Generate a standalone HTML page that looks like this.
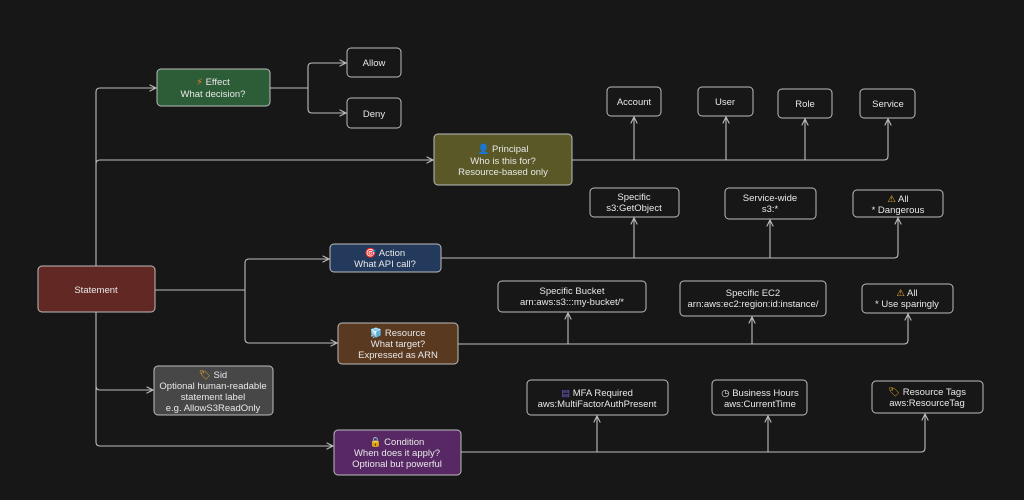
<!DOCTYPE html>
<html><head><meta charset="utf-8"><style>
html,body{margin:0;padding:0;background:#171717;}
svg{display:block}
text{font-family:"Liberation Sans","DejaVu Sans",sans-serif;font-size:9.5px;fill:#e8e8e8;text-anchor:middle}
.b{stroke:#bdbdbd;stroke-width:1;}
.l{fill:none;stroke:#bdbdbd;stroke-width:1.1}
</style></head><body>
<svg width="1024" height="500" viewBox="0 0 1024 500">
<defs><marker id="a" markerWidth="8" markerHeight="8" refX="6" refY="3" orient="auto"><path d="M0,0 L6,3 L0,6" fill="none" stroke="#bdbdbd" stroke-width="1"/></marker></defs>
<rect width="1024" height="500" fill="#171717"/>
<!-- connectors -->
<g class="l" marker-end="url(#a)">
<path d="M96,266 V92 Q96,88 100,88 H156"/>
<path d="M96,164 Q96,160 100,160 H433"/>
<path d="M96,312 V386 Q96,390 100,390 H153"/>
<path d="M96,386 V442 Q96,446 100,446 H333"/>
<path d="M155,290 H245 V263 Q245,259 249,259 H329"/>
<path d="M245,290 V339 Q245,343 249,343 H337"/>
<path d="M270,88 H308 V67 Q308,63 312,63 H346"/>
<path d="M308,88 V109 Q308,113 312,113 H346"/>
<path d="M572,160 H634 V117"/>
<path d="M634,160 H726 V117"/>
<path d="M726,160 H805 V119"/>
<path d="M805,160 H884 Q888,160 888,156 V119"/>
<path d="M441,258 H634 V218"/>
<path d="M634,258 H770 V220"/>
<path d="M770,258 H894 Q898,258 898,254 V218"/>
<path d="M458,344 H568 V313"/>
<path d="M568,344 H752 V317"/>
<path d="M752,344 H904 Q908,344 908,340 V314"/>
<path d="M461,452 H597 V416"/>
<path d="M597,452 H768 V416"/>
<path d="M768,452 H921 Q925,452 925,448 V414"/>
</g>
<!-- colored nodes -->
<rect class="b" x="38" y="266" width="117" height="46" rx="4" fill="#622924"/>
<text x="96" y="293">Statement</text>
<rect class="b" x="157" y="69" width="113" height="37" rx="4" fill="#2c5d36"/>
<text x="213" y="85"><tspan fill="#f07a2a">⚡</tspan> Effect</text><text x="213" y="97">What decision?</text>
<rect class="b" x="434" y="134" width="138" height="51" rx="4" fill="#595826"/>
<text x="503" y="152"><tspan fill="#7b4bb0">👤</tspan> Principal</text><text x="503" y="164">Who is this for?</text><text x="503" y="175">Resource-based only</text>
<rect class="b" x="330" y="244" width="111" height="28" rx="4" fill="#233a5d"/>
<text x="385" y="256"><tspan fill="#e0407a">🎯</tspan> Action</text><text x="385" y="267">What API call?</text>
<rect class="b" x="338" y="323" width="120" height="41" rx="4" fill="#593920"/>
<text x="398" y="336"><tspan fill="#5a8ee0">🧊</tspan> Resource</text><text x="398" y="347">What target?</text><text x="398" y="358">Expressed as ARN</text>
<rect class="b" x="154" y="366" width="119" height="49" rx="4" fill="#474747"/>
<text x="213" y="378"><tspan fill="#f0b030">🏷</tspan> Sid</text><text x="213" y="389">Optional human-readable</text><text x="213" y="400">statement label</text><text x="213" y="411">e.g. AllowS3ReadOnly</text>
<rect class="b" x="334" y="430" width="127" height="45" rx="4" fill="#582865"/>
<text x="397" y="445"><tspan fill="#f0a030">🔒</tspan> Condition</text><text x="397" y="456">When does it apply?</text><text x="397" y="467">Optional but powerful</text>
<!-- leaf nodes -->
<g fill="#171717">
<rect class="b" x="347" y="48" width="54" height="29" rx="4"/><rect class="b" x="347" y="98" width="54" height="30" rx="4"/>
<rect class="b" x="607" y="87" width="54" height="29" rx="4"/><rect class="b" x="698" y="87" width="55" height="29" rx="4"/>
<rect class="b" x="778" y="89" width="54" height="29" rx="4"/><rect class="b" x="860" y="89" width="55" height="29" rx="4"/>
<rect class="b" x="590" y="188" width="89" height="29" rx="4"/><rect class="b" x="725" y="188" width="91" height="31" rx="4"/>
<rect class="b" x="853" y="190" width="90" height="27" rx="4"/>
<rect class="b" x="498" y="281" width="148" height="31" rx="4"/><rect class="b" x="680" y="281" width="146" height="35" rx="4"/>
<rect class="b" x="862" y="284" width="91" height="29" rx="4"/>
<rect class="b" x="527" y="380" width="141" height="35" rx="4"/><rect class="b" x="712" y="380" width="95" height="35" rx="4"/>
<rect class="b" x="872" y="381" width="111" height="32" rx="4"/>
</g>
<text x="374" y="66">Allow</text><text x="374" y="117">Deny</text>
<text x="634" y="105">Account</text><text x="725" y="105">User</text><text x="805" y="107">Role</text><text x="888" y="107">Service</text>
<text x="634" y="200">Specific</text><text x="634" y="211">s3:GetObject</text>
<text x="770" y="201">Service-wide</text><text x="770" y="212">s3:*</text>
<text x="898" y="202"><tspan fill="#f0b030">⚠</tspan> All</text><text x="898" y="213">* Dangerous</text>
<text x="572" y="294">Specific Bucket</text><text x="572" y="305">arn:aws:s3:::my-bucket/*</text>
<text x="753" y="296">Specific EC2</text><text x="753" y="307">arn:aws:ec2:region:id:instance/</text>
<text x="907" y="296"><tspan fill="#f0b030">⚠</tspan> All</text><text x="907" y="307">* Use sparingly</text>
<text x="597" y="396"><tspan fill="#6a5ac0">▤</tspan> MFA Required</text><text x="597" y="407">aws:MultiFactorAuthPresent</text>
<text x="760" y="396"><tspan fill="#e0e0e0">◷</tspan> Business Hours</text><text x="760" y="407">aws:CurrentTime</text>
<text x="927" y="395"><tspan fill="#f0b030">🏷</tspan> Resource Tags</text><text x="927" y="406">aws:ResourceTag</text>
</svg>
</body></html>
